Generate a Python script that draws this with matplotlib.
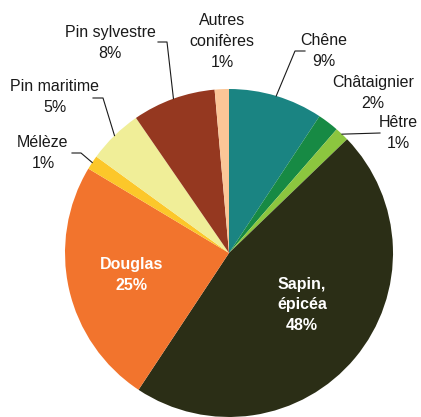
import numpy as np
import matplotlib.pyplot as plt

plt.rcParams['font.family'] = ['Liberation Sans', 'DejaVu Sans']

# species shares, clockwise from 12 o'clock
species = ['Chêne', 'Châtaignier', 'Hêtre', 'Sapin,\népicéa', 'Douglas',
           'Mélèze', 'Pin maritime', 'Pin sylvestre', 'Autres\nconifères']
shares = [9.3, 2.1, 1.4, 46.5, 24.3, 1.4, 5.4, 8.2, 1.4]
pct_labels = ['9%', '2%', '1%', '48%', '25%', '1%', '5%', '8%', '1%']
colors = ['#1a8482', '#178a44', '#8cc63f', '#2b2e16', '#f2742d',
          '#fcc72a', '#f0ee98', '#953820', '#fbc697']

W, H = 421, 417
fig = plt.figure(figsize=(W / 100, H / 100), dpi=100)
ax = fig.add_axes([0, 0, 1, 1])

cx, cy, r = 229, H - 253, 164
wedges, _ = ax.pie(shares, colors=colors, startangle=90, counterclock=False,
                   center=(cx, cy), radius=r, wedgeprops=dict(linewidth=0))
ax.set_xlim(0, W)
ax.set_ylim(0, H)
ax.axis('off')


def edge_point(i):
    w = wedges[i]
    a = np.deg2rad((w.theta1 + w.theta2) / 2)
    return cx + r * np.cos(a), cy + r * np.sin(a)


def txt(x, y, s, **kw):
    ax.text(x, H - y, s, ha='center', va='center', fontsize=11.5,
            linespacing=1.5, **kw)


# outside labels: (index, text centre, leader points in pixel coords)
outside = [
    (0, (324, 51), [(305, 51), (295, 51)]),
    (1, (373, 93), None),
    (2, (398, 133), [(380, 133)]),
    (5, (43, 153), [(72, 153), (81, 153)]),
    (6, (55, 97), [(93, 98), (103, 98)]),
    (7, (110, 43), [(158, 42), (167, 42)]),
    (8, (222, 41), None),
]
for i, (tx, ty), pts in outside:
    txt(tx, ty, species[i] + '\n' + pct_labels[i], color='#1a1a1a')
    if pts:
        ex, ey = edge_point(i)
        xs = [p[0] for p in pts] + [ex]
        ys = [H - p[1] for p in pts] + [ey]
        ax.plot(xs, ys, color='#1a1a1a', lw=0.8)

# inside labels
txt(132, 275, species[4] + '\n' + pct_labels[4], color='white', fontweight='bold')
txt(302, 305, species[3] + '\n' + pct_labels[3], color='white', fontweight='bold')

fig.savefig('out.png', dpi=100)
